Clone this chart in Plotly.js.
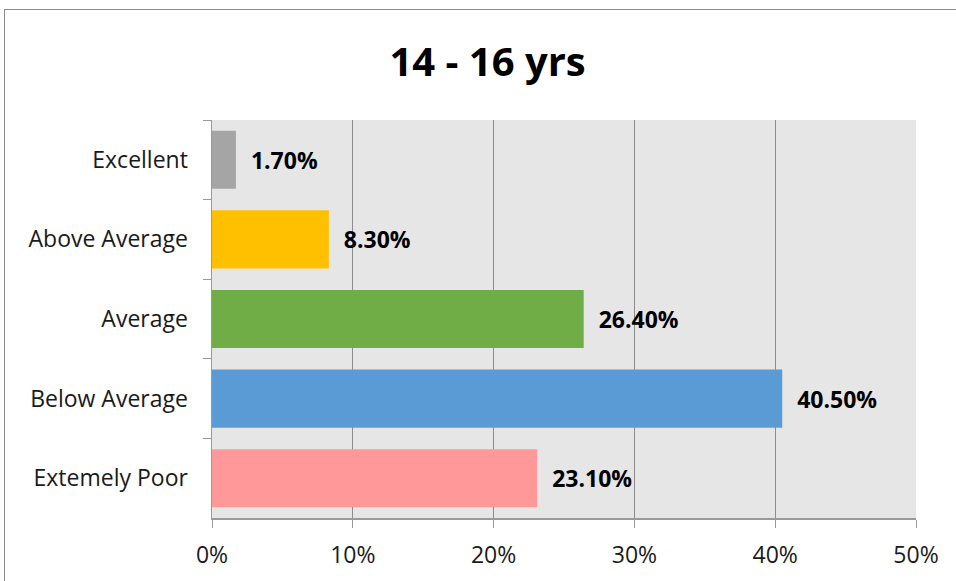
<!DOCTYPE html>
<html>
<head>
<meta charset="utf-8">
<script src="https://cdn.plot.ly/plotly-3.0.1.min.js"></script>
<style>
html,body{margin:0;padding:0;background:#fff;}
#frame{position:absolute;left:4px;top:9px;width:960px;height:580px;border:1px solid #8c8c8c;box-sizing:border-box;}
#chart{position:absolute;left:0;top:0;width:956px;height:581px;}
</style>
</head>
<body>
<div id="frame"></div>
<div id="chart"></div>
<script>
const categories = ["Excellent", "Above Average", "Average", "Below Average", "Extemely Poor"];
const values = [1.7, 8.3, 26.4, 40.5, 23.1];
const colors = ["#A5A5A5", "#FFC000", "#70AD47", "#5B9BD5", "#FF9999"];
const xTickVals = [0, 10, 20, 30, 40, 50];
const xTickLabels = ["0%", "10%", "20%", "30%", "40%", "50%"];
const titleText = "14 - 16 yrs";

const font = "Open Sans, Liberation Sans, sans-serif";

Plotly.newPlot("chart", [{
  type: "bar",
  orientation: "h",
  y: categories,
  x: values,
  marker: {color: colors, line: {width: 0}},
  text: values.map(v => v.toFixed(2) + "%"),
  texttemplate: "  %{text}",
  textposition: "outside",
  cliponaxis: false,
  textfont: {family: font, size: 23, color: "#000", weight: "bold"},
  hoverinfo: "none"
}], {
  width: 956, height: 581,
  margin: {l: 212, r: 40, t: 120, b: 63},
  paper_bgcolor: "rgba(0,0,0,0)",
  plot_bgcolor: "#E6E6E6",
  bargap: 0.27,
  showlegend: false,
  title: {text: titleText, font: {family: font, size: 40, color: "#000", weight: "bold"}, x: 0.51, xanchor: "center", y: 0.893, yanchor: "middle"},
  xaxis: {
    range: [0, 50], tickvals: xTickVals, ticktext: xTickLabels,
    showgrid: true, gridcolor: "#8c8c8c", gridwidth: 1,
    showline: true, linecolor: "#9a9a9a", linewidth: 1.5,
    ticks: "outside", ticklen: 8, tickcolor: "#9a9a9a",
    ticklabelstandoff: 8,
    tickfont: {family: font, size: 23, color: "#1a1a1a"},
    zeroline: false, fixedrange: true
  },
  yaxis: {
    autorange: "reversed", type: "category",
    showgrid: false,
    showline: true, linecolor: "#9a9a9a", linewidth: 1.5,
    ticks: "outside", ticklen: 8, tickcolor: "#9a9a9a", tickson: "boundaries",
    ticklabelstandoff: 18,
    tickfont: {family: font, size: 23, color: "#1a1a1a"},
    fixedrange: true
  }
}, {displayModeBar: false, staticPlot: true});
</script>
</body>
</html>
